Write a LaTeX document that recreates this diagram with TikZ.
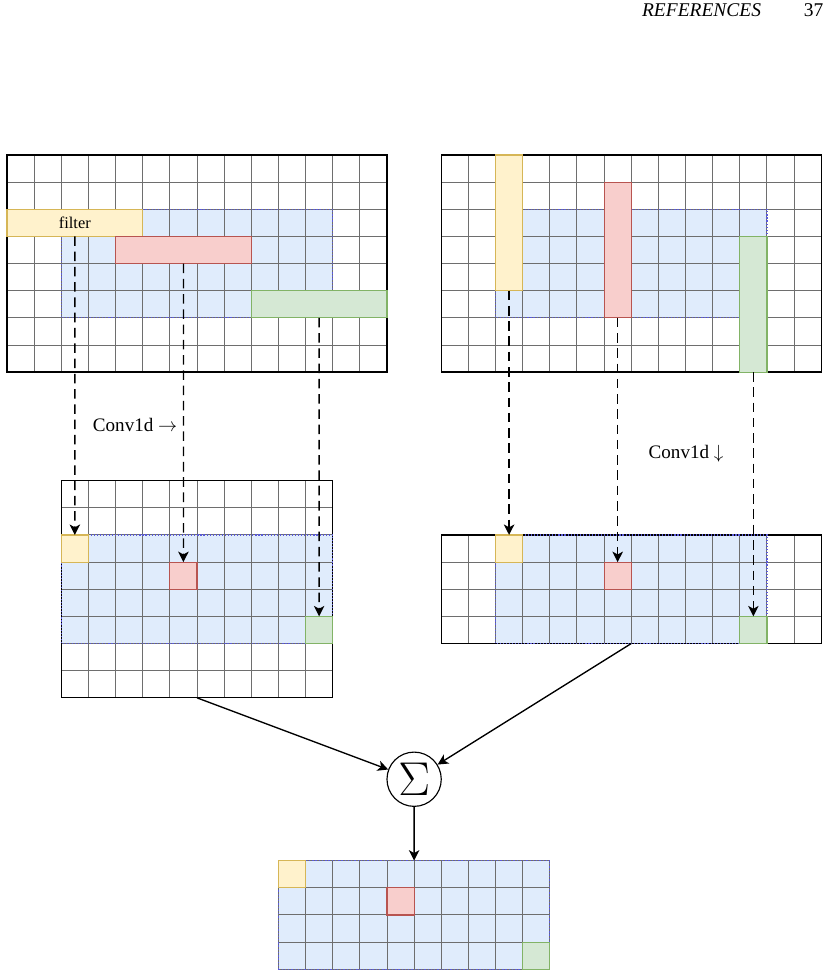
\documentclass[tikz,border=0pt]{standalone}
\usepackage{fontspec}
\setmainfont{Liberation Serif}
\usetikzlibrary{arrows.meta,positioning}
\definecolor{yelF}{HTML}{FFF2CC}
\definecolor{yelD}{HTML}{D6B656}
\definecolor{redF}{HTML}{F8CECC}
\definecolor{redD}{HTML}{B85450}
\definecolor{grnF}{HTML}{D5E8D4}
\definecolor{grnD}{HTML}{82B366}
\definecolor{bluF}{HTML}{E0ECFC}
\definecolor{bluD}{HTML}{5A5AD8}
\definecolor{gridC}{RGB}{110,110,110}
\tikzset{
  tile/.style={rectangle, draw=#1D, fill=#1F, line width=0.6pt, inner sep=0pt, outer sep=0pt,
               anchor=north west, minimum width=5mm, minimum height=5mm},
  frame/.style={rectangle, draw=black, line width=0.7pt, inner sep=0pt, outer sep=0pt, anchor=north west},
  zone/.style={draw=bluD, densely dotted, line width=0.6pt},
  gridln/.style={draw=gridC, line width=0.5pt, step=1},
  arr/.style={-{Stealth[length=5.5pt,width=5.5pt,inset=1.5pt]}, line width=0.7pt},
  darr/.style={arr, dash pattern=on 5pt off 3pt},
  lbl/.style={font=\fontsize{10}{12}\selectfont, anchor=base},
}
\begin{document}
\begin{tikzpicture}[x=5mm, y=5mm]
  \useasboundingbox (-0.258,-30.25) rectangle (30.29,5.711);
  % blue zones under the cells
  \fill[bluF] (2,-2) rectangle (12,-6);
  \fill[bluF] (18,-2) rectangle (28,-6);
  \fill[bluF] (2,-14) rectangle (12,-18);
  \fill[bluF] (18,-14) rectangle (28,-18);
  \fill[bluF] (10,-26) rectangle (20,-30);
  % cells
  \draw[gridln] (0,0) grid (14,-8);
  \draw[gridln] (16,0) grid (30,-8);
  \draw[gridln] (2,-12) grid (12,-20);
  \draw[gridln] (16,-14) grid (30,-18);
  \draw[gridln] (10,-26) grid (20,-30);
  % frames
  \node[frame, minimum width=7cm, minimum height=4cm] (gA) at (0,0) {};
  \node[frame, minimum width=7cm, minimum height=4cm] (gC) at (16,0) {};
  \node[frame, minimum width=5cm, minimum height=4cm] (gB) at (2,-12) {};
  \node[frame, minimum width=7cm, minimum height=2cm] (gD) at (16,-14) {};
  \node[frame, zone, minimum width=5cm, minimum height=2cm] (gE) at (10,-26) {};
  \draw[zone] (2,-2) rectangle (12,-6);
  \draw[zone] (18,-2) rectangle (28,-6);
  \draw[zone] (2,-14) rectangle (12,-18);
  \draw[zone] (18,-14) rectangle (28,-18);

  % horizontal filters
  \node[tile=yel, minimum width=2.5cm, font=\fontsize{8.6}{10}\selectfont] (hY) at (0,-2) {filter};
  \node[tile=red, minimum width=2.5cm] (hR) at (4,-3) {};
  \node[tile=grn, minimum width=2.5cm] (hG) at (9,-5) {};
  % vertical filters
  \node[tile=yel, minimum height=2.5cm] (vY) at (18,0) {};
  \node[tile=red, minimum height=2.5cm] (vR) at (22,-1) {};
  \node[tile=grn, minimum height=2.5cm] (vG) at (27,-3) {};
  % outputs
  \node[tile=yel] (oY1) at (2,-14) {};
  \node[tile=red] (oR1) at (6,-15) {};
  \node[tile=grn] (oG1) at (11,-17) {};
  \node[tile=yel] (oY2) at (18,-14) {};
  \node[tile=red] (oR2) at (22,-15) {};
  \node[tile=grn] (oG2) at (27,-17) {};
  \node[tile=yel] (sY) at (10,-26) {};
  \node[tile=red] (sR) at (14,-27) {};
  \node[tile=grn] (sG) at (19,-29) {};

  \node[circle, draw, line width=0.6pt, minimum size=1cm, inner sep=0pt] (sum) at (15,-23)
    {\fontsize{23}{23}\selectfont$\Sigma$};

  \draw[darr] (hY.south) -- (oY1.north);
  \draw[darr] (hR.south) -- (oR1.north);
  \draw[darr] (hG.south) -- (oG1.north);
  \draw[darr] (vY.south) -- (oY2.north);
  \draw[darr] (vR.south) -- (oR2.north);
  \draw[darr] (vG.south) -- (oG2.north);
  \draw[arr] (gB.south) -- (sum);
  \draw[arr] (gD.south) -- (sum);
  \draw[arr] (sum) -- (gE.north);

  \node[lbl] (cH) at (4.72,-10.2) {Conv1d $\rightarrow$};
  \node[lbl] (cV) at (25.02,-11.2) {Conv1d $\downarrow$};
  \node[font=\fontsize{10.2}{12}\selectfont\itshape] (hd) at (25.59,5.33) {REFERENCES};
  \node[font=\fontsize{10.2}{12}\selectfont] (pg) at (29.72,5.33) {37};
\end{tikzpicture}
\end{document}
